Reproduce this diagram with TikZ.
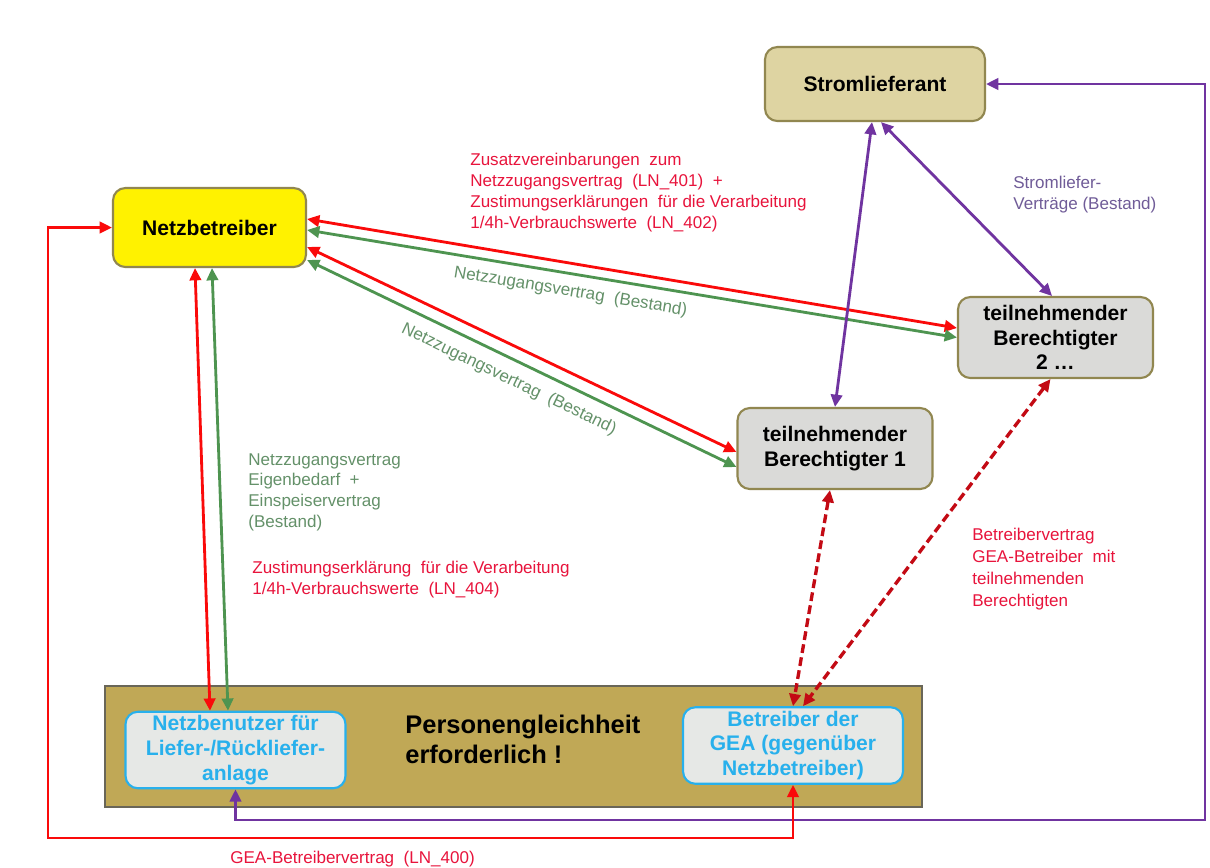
\documentclass[tikz,border=0pt]{standalone}
\usepackage{fontspec}
\setmainfont{Liberation Sans}
\usepackage{xcolor}
\usetikzlibrary{arrows.meta}

\definecolor{arrowred}{RGB}{250,10,10}
\definecolor{arrowgreen}{RGB}{78,148,80}
\definecolor{arrowpurple}{RGB}{112,52,160}
\definecolor{dashred}{RGB}{195,10,20}
\definecolor{txtred}{RGB}{232,20,60}
\definecolor{txtgreen}{RGB}{100,145,105}
\definecolor{txtpurple}{RGB}{112,92,152}
\definecolor{stromfill}{RGB}{222,212,162}
\definecolor{boxedge}{RGB}{145,135,80}
\definecolor{boxgray}{RGB}{218,218,216}
\definecolor{goldfill}{RGB}{192,168,86}
\definecolor{goldedge}{RGB}{105,102,88}
\definecolor{geacyan}{RGB}{40,176,236}
\definecolor{geafill}{RGB}{230,232,230}

\begin{document}
\begin{tikzpicture}[x=0.02cm, y=-0.02cm,
    partner/.style={draw=boxedge, line width=1.2pt, rounded corners=7pt, align=center, inner sep=2pt,
        font=\bfseries\fontsize{12}{13.8}\selectfont},
    berechtigt/.style={partner, fill=boxgray, minimum width=3.9cm, minimum height=1.62cm},
    geabox/.style={draw=geacyan, line width=1.2pt, rounded corners=7pt, fill=geafill, text=geacyan,
        align=center, inner sep=1pt, minimum width=4.4cm, minimum height=1.53cm,
        font=\bfseries\fontsize{12}{14.2}\selectfont},
    note/.style={align=left, inner sep=0pt, anchor=north west, font=\fontsize{9.7}{11.9}\selectfont},
    link/.style={line width=1.6pt, {Triangle[length=7pt,width=6.5pt]}-{Triangle[length=7pt,width=6.5pt]}},
    betrieb/.style={link, line width=1.9pt, dashred, dash pattern=on 5pt off 2.5pt},
    slopenote/.style={sloped, text=txtgreen, inner sep=0pt, font=\fontsize{9.7}{11.9}\selectfont}]

    % Page
    \fill[white] (0,0) rectangle (1210,867);
    \useasboundingbox (0,0) rectangle (1210,867);

    % Parties
    \node[partner, fill=stromfill, minimum width=4.4cm, minimum height=1.48cm] (strom) at (875,84) {Stromlieferant};
    \node[partner, fill=yellow, minimum width=3.86cm, minimum height=1.58cm] (netz) at (209.5,227.5) {Netzbetreiber};
    \node[berechtigt] (tb2) at (1055.5,337.5) {teilnehmender\\Berechtigter\\2 \dots};
    \node[berechtigt] (tb1) at (835,448.5) {teilnehmender\\Berechtigter 1};

    % Personengleichheit
    \node[draw=goldedge, fill=goldfill, line width=1pt, minimum width=16.34cm, minimum height=2.42cm] (gleich) at (513.5,746.5) {};
    \node[note, font=\bfseries\fontsize{14.5}{17}\selectfont] (pg) at (405,715) {Personengleichheit\\erforderlich !};
    \node[geabox] (nutzer) at (235.5,750) {Netzbenutzer für\\Liefer-/Rückliefer-\\anlage};
    \node[geabox] (betr) at (793,745.5) {Betreiber der\\GEA (gegenüber\\Netzbetreiber)};

    % Netzbetreiber - Berechtigte
    \draw[link, arrowred] ([yshift=0.17cm]netz.east) -- ([yshift=0.19cm]tb2.west);
    \draw[link, arrowgreen] ([yshift=-0.05cm]netz.east) -- (tb2.west)
        node[slopenote, pos=0.41, below=5pt] {Netzzugangsvertrag~~(Bestand)};
    \draw[link, arrowred] ([yshift=-0.39cm]netz.east) -- ([yshift=-0.07cm]tb1.west);
    \draw[link, arrowgreen] ([yshift=-0.65cm]netz.east) -- ([yshift=-0.37cm]tb1.west)
        node[slopenote, pos=0.49, below=6pt] {Netzzugangsvertrag~~(Bestand)};

    % Netzbetreiber - Netzbenutzer
    \draw[link, arrowred] ([xshift=-0.29cm]netz.south) -- ([xshift=-0.51cm]nutzer.north);
    \draw[link, arrowgreen] ([xshift=0.05cm]netz.south) -- ([xshift=-0.15cm]nutzer.north);

    % Stromlieferung
    \draw[link, arrowpurple] ([xshift=-0.06cm]strom.south) -- (tb1.north);
    \draw[link, arrowpurple] ([xshift=0.12cm]strom.south) -- ([xshift=-0.07cm]tb2.north);
    \draw[link, arrowpurple] (strom.east) -| (1205,820) -| (nutzer.south);

    % GEA-Betreibervertrag
    \draw[link, arrowred] (betr.south) |- (48,838) |- (netz.west);

    % Betreibervertrag mit den Berechtigten
    \draw[betrieb] ([xshift=-0.1cm]tb1.south) -- (betr.north);
    \draw[betrieb] ([xshift=-0.1cm]tb2.south) -- ([xshift=0.2cm]betr.north);

    % Labels
    \node[note, text=txtred] (ln401) at (470,153) {Zusatzvereinbarungen~~zum\\Netzzugangsvertrag~~(LN\_401)~~+\\Zustimungserklärungen~~für die Verarbeitung\\1/4h-Verbrauchswerte~~(LN\_402)};
    \node[note, text=txtpurple] (sv) at (1013,176) {Stromliefer-\\Verträge (Bestand)};
    \node[note, text=txtgreen] (eigen) at (248,453) {Netzzugangsvertrag\\Eigenbedarf~~+\\Einspeiservertrag\\(Bestand)};
    \node[note, text=txtred] (ln404) at (252,561) {Zustimungserklärung~~für die Verarbeitung\\1/4h-Verbrauchswerte~~(LN\_404)};
    \node[note, text=txtred, font=\fontsize{9.7}{12.5}\selectfont] (bv) at (972,528) {Betreibervertrag\\GEA-Betreiber~~mit\\teilnehmenden\\Berechtigten};
    \node[note, text=txtred] (ln400) at (230,851) {GEA-Betreibervertrag~~(LN\_400)};

\end{tikzpicture}
\end{document}
